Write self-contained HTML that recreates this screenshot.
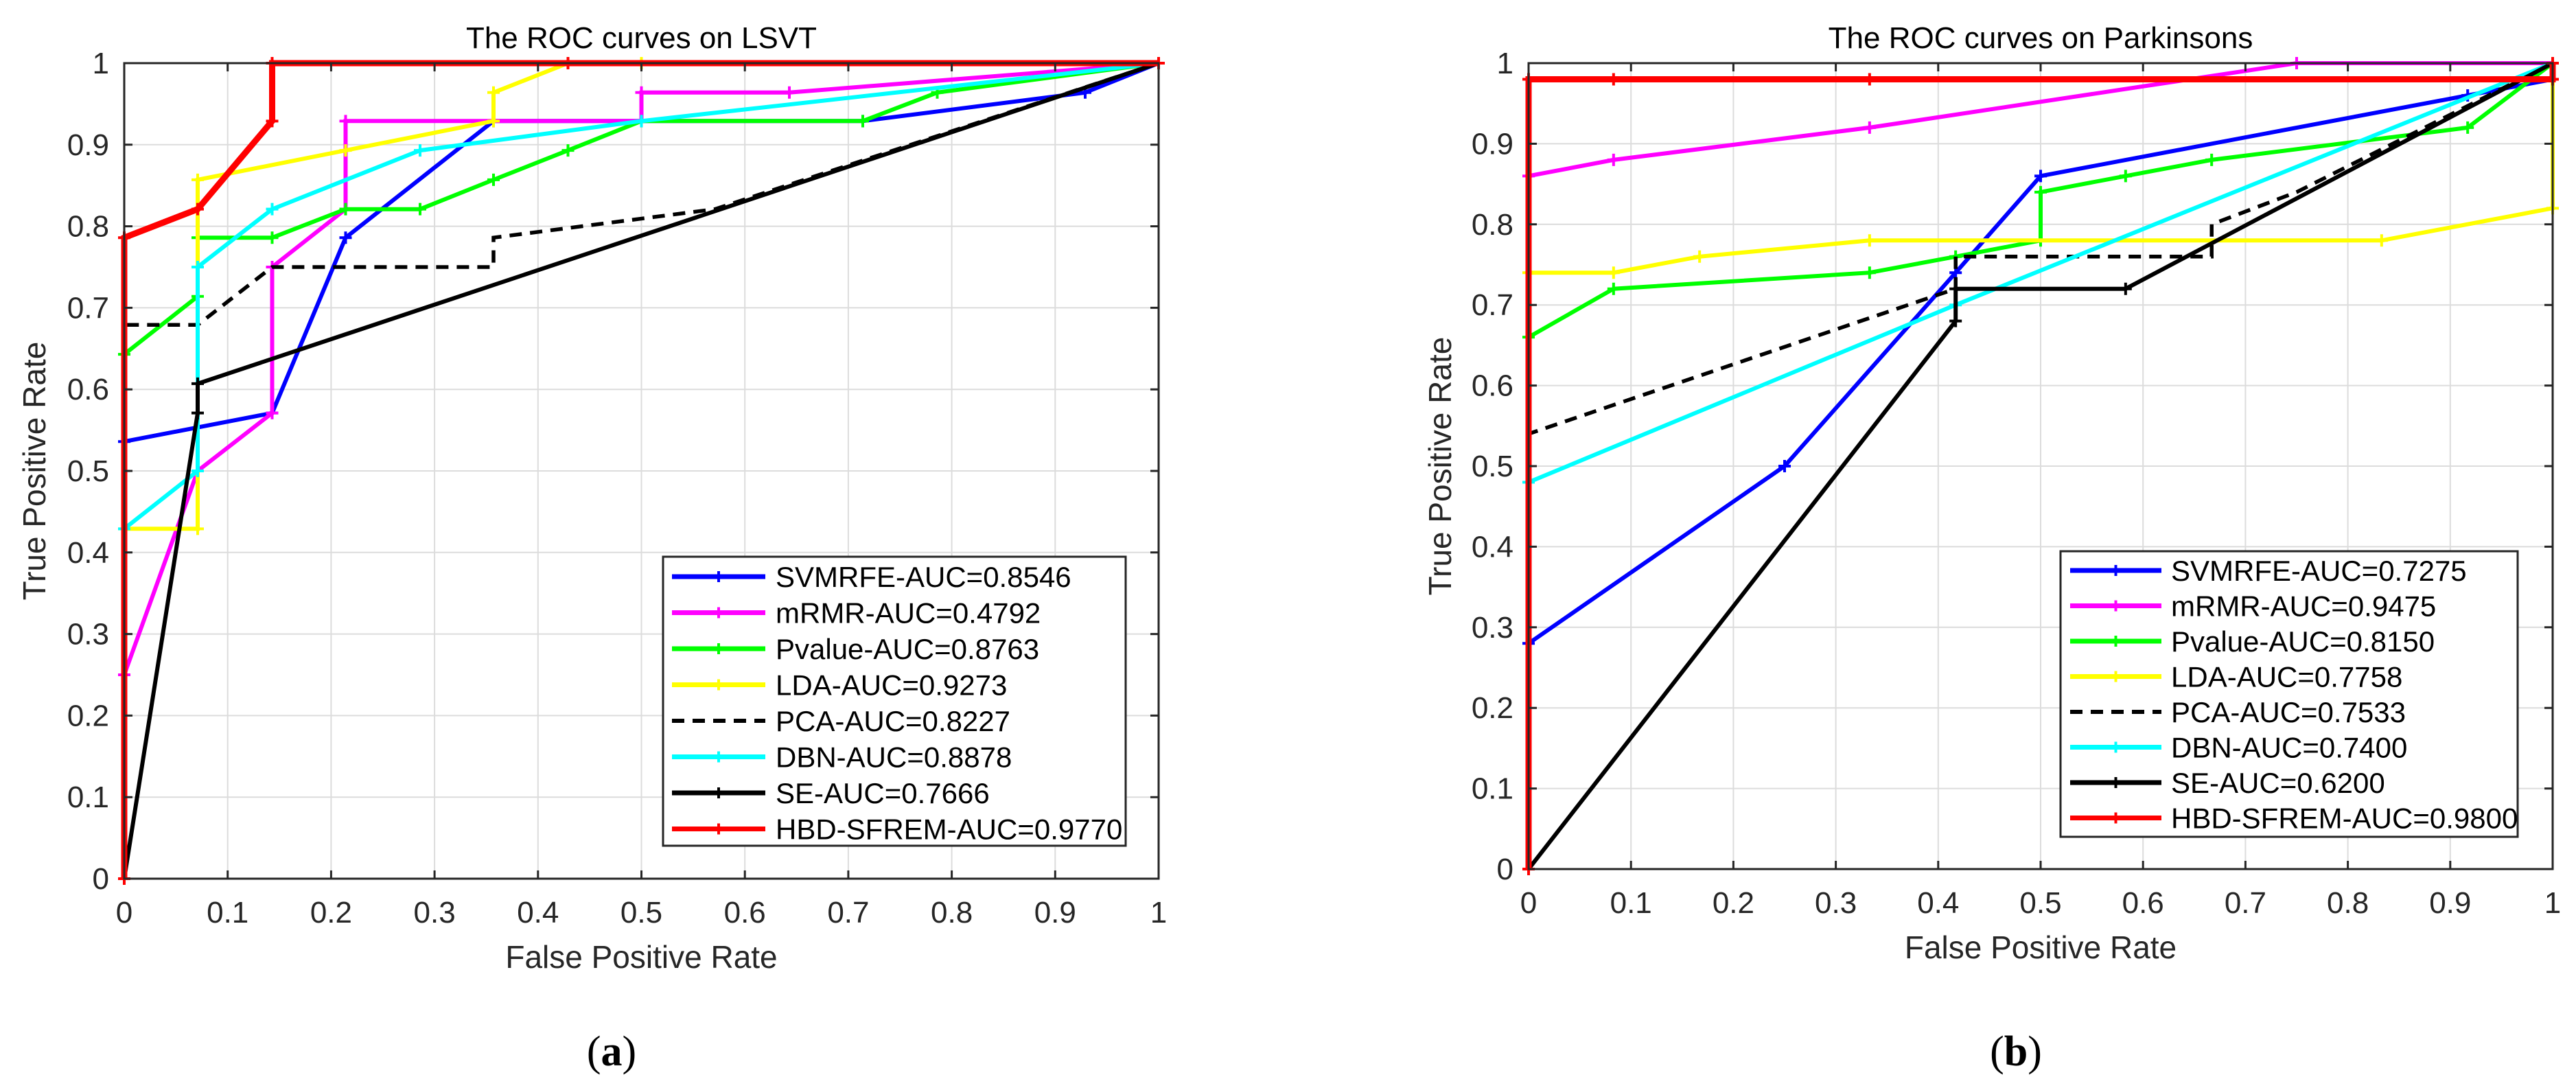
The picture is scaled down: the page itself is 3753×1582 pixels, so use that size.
<!DOCTYPE html>
<html><head><meta charset="utf-8">
<style>
html,body{margin:0;padding:0;background:#fff;}
svg{display:block;font-family:"Liberation Sans",Arial,sans-serif;}
</style></head>
<body>
<svg id="fig" width="3753" height="1582" viewBox="0 0 3753 1582" xmlns="http://www.w3.org/2000/svg">
<rect width="3753" height="1582" fill="#fff"/>
</svg>
<script>
// ---- data ----
const seriesNames = ["SVMRFE","mRMR","Pvalue","LDA","PCA","DBN","SE","HBD-SFREM"];
const seriesColors = ["#0000ff","#ff00ff","#00ff00","#ffff00","#000000","#00ffff","#000000","#ff0000"];
const aucA = ["0.8546","0.4792","0.8763","0.9273","0.8227","0.8878","0.7666","0.9770"];
const aucB = ["0.7275","0.9475","0.8150","0.7758","0.7533","0.7400","0.6200","0.9800"];
const tickVals = [0,0.1,0.2,0.3,0.4,0.5,0.6,0.7,0.8,0.9,1];
const tickLabels = ["0","0.1","0.2","0.3","0.4","0.5","0.6","0.7","0.8","0.9","1"];

const lsvtSVMRFE = [[0,0],[0,0.536],[0.143,0.571],[0.214,0.786],[0.357,0.929],[0.5,0.929],[0.714,0.929],[0.929,0.964],[1,1]];
const lsvtMRMR = [[0,0],[0,0.25],[0.071,0.5],[0.143,0.571],[0.143,0.75],[0.214,0.821],[0.214,0.929],[0.5,0.929],[0.5,0.964],[0.643,0.964],[1,1]];
const lsvtPvalue = [[0,0],[0,0.643],[0.071,0.714],[0.071,0.786],[0.143,0.786],[0.214,0.821],[0.286,0.821],[0.357,0.857],[0.429,0.893],[0.5,0.929],[0.714,0.929],[0.786,0.964],[1,1]];
const lsvtLDA = [[0,0],[0,0.429],[0.071,0.429],[0.071,0.857],[0.214,0.893],[0.357,0.929],[0.357,0.964],[0.429,1],[0.5,1],[1,1]];
const lsvtPCA = [[0,0],[0,0.679],[0.071,0.679],[0.143,0.75],[0.357,0.75],[0.357,0.786],[0.571,0.821],[1,1]];
const lsvtDBN = [[0,0],[0,0.429],[0.071,0.5],[0.071,0.75],[0.143,0.821],[0.286,0.893],[0.5,0.929],[1,1]];
const lsvtSE = [[0,0],[0.071,0.571],[0.071,0.607],[1,1]];
const lsvtHBD = [[0,0],[0,0.786],[0.071,0.821],[0.143,0.929],[0.143,1],[0.429,1],[1,1]];

const parkSVMRFE = [[0,0],[0,0.28],[0.25,0.5],[0.417,0.74],[0.5,0.86],[0.917,0.96],[1,0.98],[1,1]];
const parkMRMR = [[0,0],[0,0.86],[0.083,0.88],[0.333,0.92],[0.75,1],[1,1]];
const parkPvalue = [[0,0],[0,0.66],[0.083,0.72],[0.333,0.74],[0.417,0.76],[0.5,0.78],[0.5,0.84],[0.583,0.86],[0.667,0.88],[0.917,0.92],[1,1]];
const parkLDA = [[0,0],[0,0.74],[0.083,0.74],[0.167,0.76],[0.333,0.78],[0.833,0.78],[1,0.82],[1,1]];
const parkPCA = [[0,0],[0,0.54],[0.417,0.72],[0.417,0.76],[0.667,0.76],[0.667,0.8],[0.75,0.84],[1,1]];
const parkDBN = [[0,0],[0,0.48],[0.417,0.7],[1,1]];
const parkSE = [[0,0],[0.417,0.68],[0.417,0.72],[0.583,0.72],[1,1]];
const parkHBD = [[0,0],[0,0.98],[0.083,0.98],[0.333,0.98],[1,0.98],[1,1]];

const lsvtSeries = [lsvtSVMRFE,lsvtMRMR,lsvtPvalue,lsvtLDA,lsvtPCA,lsvtDBN,lsvtSE,lsvtHBD];
const parkSeries = [parkSVMRFE,parkMRMR,parkPvalue,parkLDA,parkPCA,parkDBN,parkSE,parkHBD];

const NS="http://www.w3.org/2000/svg";
const svg=document.getElementById('fig');
function mk(tag,attrs,parent){const e=document.createElementNS(NS,tag);for(const k in attrs)e.setAttribute(k,attrs[k]);(parent||svg).appendChild(e);return e;}

function drawPanel(cfg){
  const g=mk('g',{});
  
  
  const X=v=>cfg.x0+v*(cfg.x1-cfg.x0);
  const Y=v=>cfg.y1-v*(cfg.y1-cfg.y0);
  tickVals.forEach((t,i)=>{
    const gl=mk('line',{x1:X(t),x2:X(t),y1:cfg.y0,y2:cfg.y1,stroke:'#dcdcdc','stroke-width':2},g);
    
    
    const hl=mk('line',{x1:cfg.x0,x2:cfg.x1,y1:Y(t),y2:Y(t),stroke:'#dcdcdc','stroke-width':2},g);
    
    
  });
  cfg.series.forEach((pts,si)=>{
    const d=pts.map((p,i)=>(i?'L':'M')+X(p[0]).toFixed(1)+','+Y(p[1]).toFixed(1)).join(' ');
    const isRed=si===7;
    const attrs={d:d,fill:'none',stroke:seriesColors[si],'stroke-width':isRed?9:6,'stroke-linejoin':'miter'};
    if(si===4){attrs['stroke-dasharray']='18,12';attrs['stroke-width']=5.5;}
    const p=mk('path',attrs,g);
    
    
    if(si!==4){
      pts.forEach(pt=>{
        const cx=X(pt[0]),cy=Y(pt[1]);
        const m=mk('path',{d:`M${cx-9},${cy}H${cx+9}M${cx},${cy-9}V${cy+9}`,stroke:seriesColors[si],'stroke-width':4},g);
        
        
      });
    }
  });
  const box=mk('rect',{x:cfg.x0,y:cfg.y0,width:cfg.x1-cfg.x0,height:cfg.y1-cfg.y0,fill:'none',stroke:'#262626','stroke-width':3},g);
  
  
  tickVals.forEach((t,i)=>{
    mk('path',{d:`M${X(t)},${cfg.y1}v-12M${X(t)},${cfg.y0}v12M${cfg.x0},${Y(t)}h12M${cfg.x1},${Y(t)}h-12`,stroke:'#262626','stroke-width':3},g);
    const xt=mk('text',{x:X(t),y:cfg.y1+64,'text-anchor':'middle','font-size':44,fill:'#262626'},g);
    xt.textContent=tickLabels[i];
    
    
    const yt=mk('text',{x:cfg.x0-22,y:Y(t)+15,'text-anchor':'end','font-size':44,fill:'#262626'},g);
    yt.textContent=tickLabels[i];
    
    
  });
  const tt=mk('text',{x:(cfg.x0+cfg.x1)/2,y:70,'text-anchor':'middle','font-size':44,fill:'#000'},g);
  tt.textContent=cfg.title;
  
  
  const xl=mk('text',{x:(cfg.x0+cfg.x1)/2,y:cfg.xlabY,'text-anchor':'middle','font-size':46,fill:'#262626'},g);
  xl.textContent='False Positive Rate';
  
  
  const yl=mk('text',{x:0,y:0,'text-anchor':'middle','font-size':46,fill:'#262626',transform:`translate(${cfg.ylabX},${(cfg.y0+cfg.y1)/2}) rotate(-90)`},g);
  yl.textContent='True Positive Rate';
  
  
  const L=cfg.leg;
  const lg=mk('g',{},g);
  
  
  mk('rect',{x:L.x0,y:L.y0,width:L.x1-L.x0,height:L.y1-L.y0,fill:'#fff',stroke:'#262626','stroke-width':3},lg);
  seriesNames.forEach((n,i)=>{
    const ry=L.r0+i*L.step;
    const ent=mk('g',{},lg);
    
    
    const la={x1:L.lx0,x2:L.lx1,y1:ry,y2:ry,stroke:seriesColors[i],'stroke-width':i===4?6:7};
    if(i===4)la['stroke-dasharray']='18,12';
    mk('line',la,ent);
    if(i!==4)mk('path',{d:`M${(L.lx0+L.lx1)/2-8},${ry}h16M${(L.lx0+L.lx1)/2},${ry-8}v16`,stroke:seriesColors[i],'stroke-width':4},ent);
    const tx=mk('text',{x:L.tx,y:ry+15,'font-size':42,fill:'#000'},ent);
    tx.textContent=n+'-AUC='+cfg.auc[i];
  });
  const cap=mk('text',{x:cfg.capX,y:1552,'text-anchor':'middle','font-size':62,fill:'#000','font-family':'"Liberation Serif",serif'},g);
  cap.innerHTML='(<tspan font-weight="bold">'+cfg.cap+'</tspan>)';
  
  
}

drawPanel({id:'panel-lsvt',x0:181,x1:1688,y0:92,y1:1280,series:lsvtSeries,auc:aucA,title:'The ROC curves on LSVT',
  xlabY:1410,ylabX:66,capX:891,cap:'a',
  leg:{x0:966,x1:1640,y0:811,y1:1232,r0:840,step:52.5,lx0:979,lx1:1115,tx:1130}});
drawPanel({id:'panel-parkinsons',x0:2227,x1:3719,y0:92,y1:1266,series:parkSeries,auc:aucB,title:'The ROC curves on Parkinsons',
  xlabY:1396,ylabX:2114,capX:2937,cap:'b',
  leg:{x0:3002,x1:3668,y0:803,y1:1219,r0:831,step:51.5,lx0:3016,lx1:3149,tx:3163}});
</script>
</body></html>
